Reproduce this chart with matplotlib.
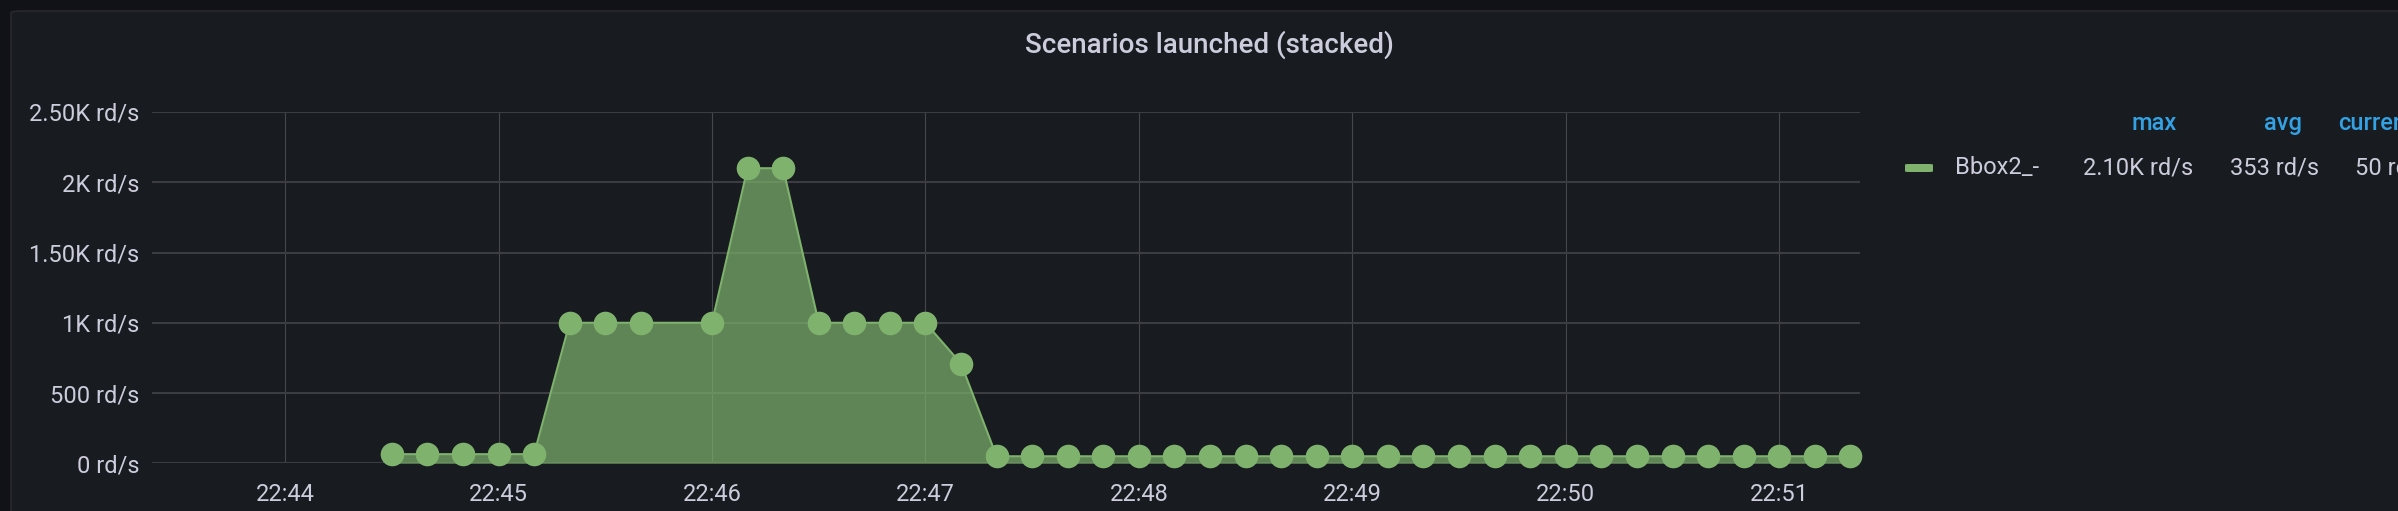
import numpy as np
import pandas as pd
import matplotlib
matplotlib.use("Agg")
import matplotlib.pyplot as plt
import matplotlib.dates as mdates
from matplotlib.patches import FancyBboxPatch

plt.rcParams['font.family'] = ['Roboto', 'DejaVu Sans']

# data: one sample every 10 s starting 22:44:30, None = missing sample
start = "2023-01-01 22:44:30"
values = [65, 65, 65, 65, 65,
          1000, 1000, 1000, None, 1000,
          2100, 2100,
          1000, 1000, 1000, 1000,
          710,
          50, 50, 50, 50, 50, 50, 50, 50, 50, 50, 50, 50, 50, 50, 50, 50, 50,
          50, 50, 50, 50, 50, 50, 50, 50]
series_name = "Bbox2_-"
stat_headers = ["max", "avg", "current"]
stat_values = ["2.10K rd/s", "353 rd/s", "50 rd/s"]
yticks = [0, 500, 1000, 1500, 2000, 2500]
ytick_labels = ["0 rd/s", "500 rd/s", "1K rd/s", "1.50K rd/s", "2K rd/s", "2.50K rd/s"]
title = "Scenarios launched (stacked)"

times = pd.date_range(start, periods=len(values), freq="10s")
s = pd.Series(values, index=times, dtype=float).dropna()

W, H = 2398, 511
fig = plt.figure(figsize=(W / 100, H / 100), dpi=100)
fig.patch.set_facecolor('#111217')

def px(x, y):
    return x / W, 1 - y / H

# panel background
panel = FancyBboxPatch(px(11, 600), (W + 50) / W, (600 - 11) / H,
                       boxstyle="round,pad=0,rounding_size=0.004",
                       transform=fig.transFigure, facecolor='#181b1f',
                       edgecolor='#26282d', linewidth=1.2, zorder=-10)
fig.patches.append(panel)

left, right, top, bottom = 152, 1860, 112, 463.3
ax = fig.add_axes([left / W, 1 - bottom / H, (right - left) / W, (bottom - top) / H])
ax.set_facecolor('none')
ax.set_zorder(5)

green = '#7eb26d'
ax.fill_between(s.index, 0, s.values, color=green, alpha=0.7, linewidth=0, zorder=2)
ax.plot(s.index, s.values, color=green, linewidth=1.5, zorder=3)
ax.plot(s.index, s.values, 'o', color=green, markersize=17, markeredgewidth=0, zorder=4,
        clip_on=False)

x0 = pd.Timestamp("2023-01-01 22:43:22.6")
x1 = pd.Timestamp("2023-01-01 22:51:22.7")
ax.set_xlim(x0, x1)
ax.set_ylim(0, 2500)

ax.xaxis.set_major_locator(mdates.MinuteLocator())
ax.xaxis.set_major_formatter(mdates.DateFormatter('%H:%M'))
ax.set_yticks(yticks)
ax.set_yticklabels(ytick_labels)

for sp in ax.spines.values():
    sp.set_visible(False)
ax.tick_params(axis='both', length=0, colors='#ccccdc', labelsize=17)
ax.tick_params(axis='y', pad=9)
ax.tick_params(axis='x', pad=14)
ax.grid(axis='y', color='#3b3d42', linewidth=1.5, zorder=1)
ax.grid(axis='x', color='#45474d', linewidth=0.8, zorder=1)
ax.set_axisbelow(True)

fig.text(*px(1209, 45), title, ha='center', va='center', color='#ccccdc',
         fontsize=20, fontweight='medium')

# legend table
hdr_x = [2177, 2302, 2338]
hdr_ha = ['right', 'right', 'left']
for t, x, ha in zip(stat_headers, hdr_x, hdr_ha):
    fig.text(*px(x, 123), t, ha=ha, va='center', color='#33a2e5',
             fontsize=17, fontweight='medium')

sw = FancyBboxPatch(px(1905, 172), 28 / W, 8 / H,
                    boxstyle="round,pad=0,rounding_size=0.0015",
                    transform=fig.transFigure, facecolor=green, edgecolor='none',
                    zorder=1)
fig.patches.append(sw)
fig.text(*px(1955, 168), series_name, ha='left', va='center', color='#ccccdc', fontsize=17)
val_x = [2193, 2319, 2355]
val_ha = ['right', 'right', 'left']
for t, x, ha in zip(stat_values, val_x, val_ha):
    fig.text(*px(x, 168), t, ha=ha, va='center', color='#ccccdc', fontsize=17)

fig.savefig('out.png', dpi=100, facecolor=fig.get_facecolor())
